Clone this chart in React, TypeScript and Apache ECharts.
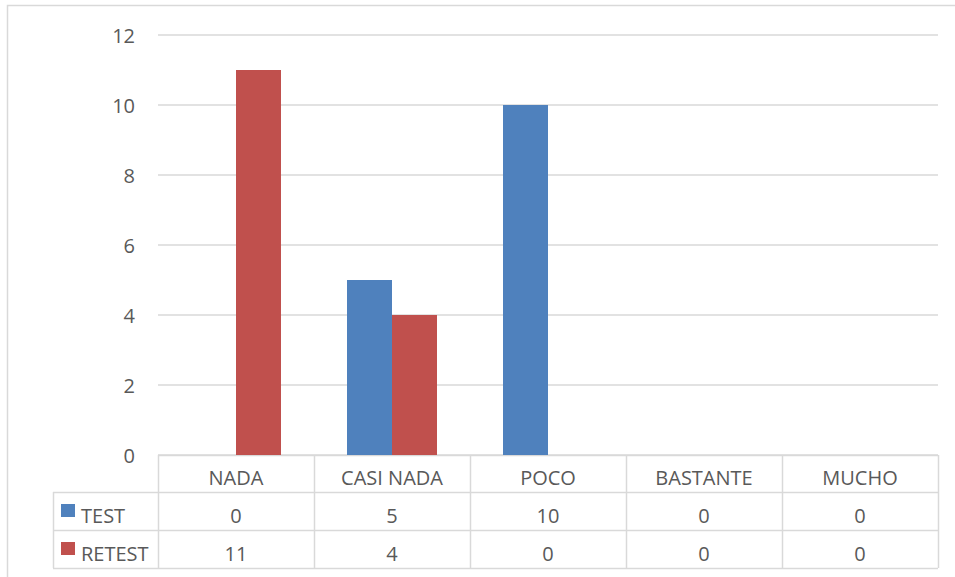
import React, { useEffect, useRef } from "react";
import * as echarts from "echarts";

const categories = ["NADA", "CASI NADA", "POCO", "BASTANTE", "MUCHO"];
const testValues = [0, 5, 10, 0, 0];
const retestValues = [11, 4, 0, 0, 0];
const seriesNames = ["TEST", "RETEST"];
const seriesColors = ["#4F81BD", "#C0504D"];
const yMin = 0;
const yMax = 12;
const yInterval = 2;

const W = 955;
const H = 577;
const GRID_L = 158;
const GRID_R = 938;
const GRID_T = 35;
const GRID_B = 455;
const ROW1 = 492;
const ROW2 = 530;
const ROW3 = 568;
const TABLE_L = 53;
const LINE = "#D9D9D9";
const TEXT = "#595959";
const FONT = "'Open Sans', 'Liberation Sans', sans-serif";
const FS = 20;

export default function App() {
  const ref = useRef<HTMLDivElement>(null);
  useEffect(() => {
    if (!ref.current) return;
    const chart = echarts.init(ref.current, null, { renderer: "svg", width: W, height: H });
    const colW = (GRID_R - GRID_L) / categories.length;
    const allSeries = [testValues, retestValues];

    const g: any[] = [];
    g.push({
      type: "rect",
      shape: { x: 7.5, y: 5.5, width: 1000, height: 700 },
      style: { fill: "none", stroke: LINE, lineWidth: 1.5 },
      silent: true,
    });
    [ROW1, ROW2, ROW3].forEach((y) => {
      g.push({
        type: "line",
        shape: { x1: TABLE_L, y1: y + 0.5, x2: GRID_R, y2: y + 0.5 },
        style: { stroke: LINE, lineWidth: 1.5 },
      });
    });
    g.push({
      type: "line",
      shape: { x1: GRID_L, y1: GRID_B + 0.5, x2: GRID_R, y2: GRID_B + 0.5 },
      style: { stroke: LINE, lineWidth: 1.5 },
    });
    g.push({
      type: "line",
      shape: { x1: TABLE_L + 0.5, y1: ROW1, x2: TABLE_L + 0.5, y2: ROW3 },
      style: { stroke: LINE, lineWidth: 1.5 },
    });
    for (let i = 0; i <= categories.length; i++) {
      const x = Math.round(GRID_L + i * colW) + 0.5;
      g.push({
        type: "line",
        shape: { x1: x, y1: GRID_B, x2: x, y2: ROW3 },
        style: { stroke: LINE, lineWidth: 1.5 },
      });
    }
    categories.forEach((c, i) => {
      g.push({
        type: "text",
        x: GRID_L + (i + 0.5) * colW,
        y: (GRID_B + ROW1) / 2 + 4,
        style: { text: c, fill: TEXT, font: `${FS}px ${FONT}`, align: "center", verticalAlign: "middle" },
      });
    });
    const rowTops = [ROW1, ROW2];
    const rowBots = [ROW2, ROW3];
    seriesNames.forEach((name, r) => {
      const cy = (rowTops[r] + rowBots[r]) / 2;
      g.push({
        type: "rect",
        shape: { x: 61, y: cy - 7, width: 14, height: 13 },
        style: { fill: seriesColors[r] },
      });
      g.push({
        type: "text",
        x: 81,
        y: cy + 4,
        style: { text: name, fill: TEXT, font: `${FS}px ${FONT}`, align: "left", verticalAlign: "middle" },
      });
      allSeries[r].forEach((v, i) => {
        g.push({
          type: "text",
          x: GRID_L + (i + 0.5) * colW,
          y: cy + 4,
          style: { text: String(v), fill: TEXT, font: `${FS}px ${FONT}`, align: "center", verticalAlign: "middle" },
        });
      });
    });

    chart.setOption({
      animation: false,
      backgroundColor: "#ffffff",
      textStyle: { fontFamily: FONT },
      grid: { left: GRID_L, right: W - GRID_R, top: GRID_T, bottom: H - GRID_B, containLabel: false },
      xAxis: {
        type: "category",
        data: categories,
        axisLine: { show: false },
        axisTick: { show: false },
        axisLabel: { show: false },
        splitLine: { show: false },
      },
      yAxis: {
        type: "value",
        min: yMin,
        max: yMax,
        interval: yInterval,
        axisLine: { show: false },
        axisTick: { show: false },
        axisLabel: { color: TEXT, fontSize: FS, fontFamily: FONT, margin: 23, padding: [8, 0, 0, 0] },
        splitLine: { lineStyle: { color: LINE, width: 1.5 } },
      },
      series: seriesNames.map((name, r) => ({
        type: "bar",
        name,
        data: allSeries[r],
        barWidth: 45,
        barGap: "0%",
        itemStyle: { color: seriesColors[r] },
      })),
      graphic: g,
    });
    return () => chart.dispose();
  }, []);
  return (
    <div
      ref={ref}
      style={{ position: "fixed", left: 0, top: 0, width: W, height: H, background: "#fff" }}
    />
  );
}
